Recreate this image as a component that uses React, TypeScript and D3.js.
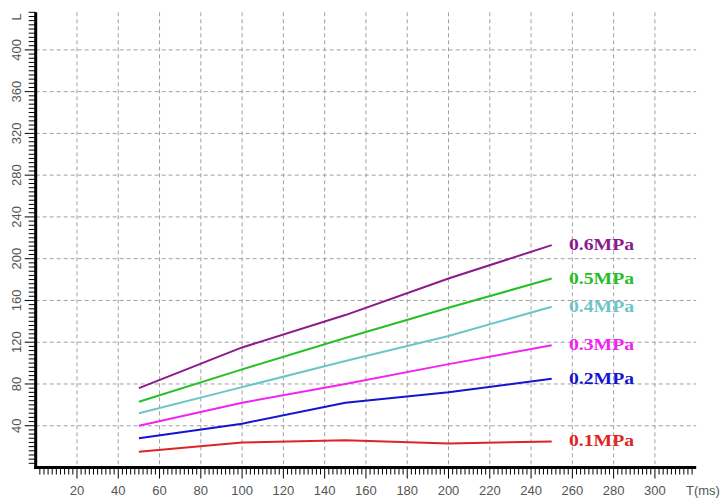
import React from "react";
import * as d3 from "d3";

const times = [50, 100, 150, 200, 250];
const p01 = [15, 24, 26, 23, 25];
const p02 = [28, 42, 62, 72, 85];
const p03 = [40, 62, 80, 99, 117];
const p04 = [52, 77, 102, 126, 154];
const p05 = [63, 94, 124, 153, 181];
const p06 = [76, 115, 146, 181, 213];

const seriesNames = ["0.1MPa", "0.2MPa", "0.3MPa", "0.4MPa", "0.5MPa", "0.6MPa"];
const seriesValues = [p01, p02, p03, p04, p05, p06];
const seriesColors = ["#e02424", "#1414d2", "#f024f0", "#6cc6c8", "#24c024", "#8a1a8e"];

const xTicks = [20, 40, 60, 80, 100, 120, 140, 160, 180, 200, 220, 240, 260, 280, 300];
const yTicks = [40, 80, 120, 160, 200, 240, 280, 320, 360, 400];

const W = 721;
const H = 499;

export default function App() {
  const x = d3.scaleLinear().domain([0, 320]).range([35.7, 696.2]);
  const y = d3.scaleLinear().domain([0, 436]).range([467.5, 12.3]);
  const line = d3
    .line<number>()
    .x((_, i) => x(times[i]))
    .y((d) => y(d));

  const xMinor = d3.range(2, 320, 2);
  const yMinor = d3.range(4, 437, 4);
  const left = x(0);
  const bottom = y(0);
  const right = x(320);
  const top = y(436);
  const tickFont = "'Liberation Sans', Arial, sans-serif";

  return (
    <svg
      width={W}
      height={H}
      style={{ position: "absolute", left: 0, top: 0, background: "#fff" }}
    >
      <rect width={W} height={H} fill="#fff" />
      {/* grid */}
      {xTicks.map((t) => (
        <line
          key={"gx" + t}
          x1={x(t)}
          x2={x(t)}
          y1={top}
          y2={bottom}
          stroke="#a0a0a0"
          strokeWidth={1}
          strokeDasharray="4,3"
        />
      ))}
      {yTicks.map((t) => (
        <line
          key={"gy" + t}
          x1={left}
          x2={right}
          y1={y(t)}
          y2={y(t)}
          stroke="#a0a0a0"
          strokeWidth={1}
          strokeDasharray="4,3"
        />
      ))}
      {/* series */}
      {seriesValues.map((vals, i) => (
        <path
          key={"s" + i}
          d={line(vals) || ""}
          fill="none"
          stroke={seriesColors[i]}
          strokeWidth={2}
        />
      ))}
      {/* labels */}
      {seriesValues.map((vals, i) => (
        <text
          key={"l" + i}
          x={569}
          y={y(vals[vals.length - 1]) + 5}
          fill={seriesColors[i]}
          fontFamily="'Liberation Serif', 'Times New Roman', serif"
          fontWeight="bold"
          fontSize={17}
          textLength={65}
          lengthAdjust="spacingAndGlyphs"
        >
          {seriesNames[i]}
        </text>
      ))}
      {/* minor ticks */}
      {xMinor.map((t) => {
        const major = t % 20 === 0;
        return (
          <line
            key={"xt" + t}
            x1={x(t)}
            x2={x(t)}
            y1={bottom}
            y2={bottom + (major ? 11 : 7)}
            stroke="#000"
            strokeWidth={1}
          />
        );
      })}
      {yMinor.map((t) => {
        const major = t % 40 === 0;
        return (
          <line
            key={"yt" + t}
            x1={left}
            x2={left - (major ? 11 : 7)}
            y1={y(t)}
            y2={y(t)}
            stroke="#000"
            strokeWidth={1}
          />
        );
      })}
      {/* axes */}
      <line x1={left} x2={left} y1={top} y2={bottom + 1.5} stroke="#000" strokeWidth={3} />
      <line x1={left - 1.5} x2={right} y1={bottom} y2={bottom} stroke="#000" strokeWidth={3} />
      {/* tick labels */}
      {xTicks.map((t) => (
        <text
          key={"xl" + t}
          x={x(t)}
          y={495}
          textAnchor="middle"
          fontFamily={tickFont}
          fontSize={13}
          fill="#555"
        >
          {t}
        </text>
      ))}
      <text x={686} y={495} fontFamily={tickFont} fontSize={13} fill="#555">
        T(ms)
      </text>
      {yTicks.map((t) => (
        <text
          key={"yl" + t}
          transform={`translate(21,${y(t)}) rotate(-90)`}
          textAnchor="middle"
          fontFamily={tickFont}
          fontSize={13}
          fill="#555"
        >
          {t}
        </text>
      ))}
      <text
        transform={`translate(21,17) rotate(-90)`}
        textAnchor="middle"
        fontFamily={tickFont}
        fontSize={13}
        fill="#555"
      >
        L
      </text>
    </svg>
  );
}
